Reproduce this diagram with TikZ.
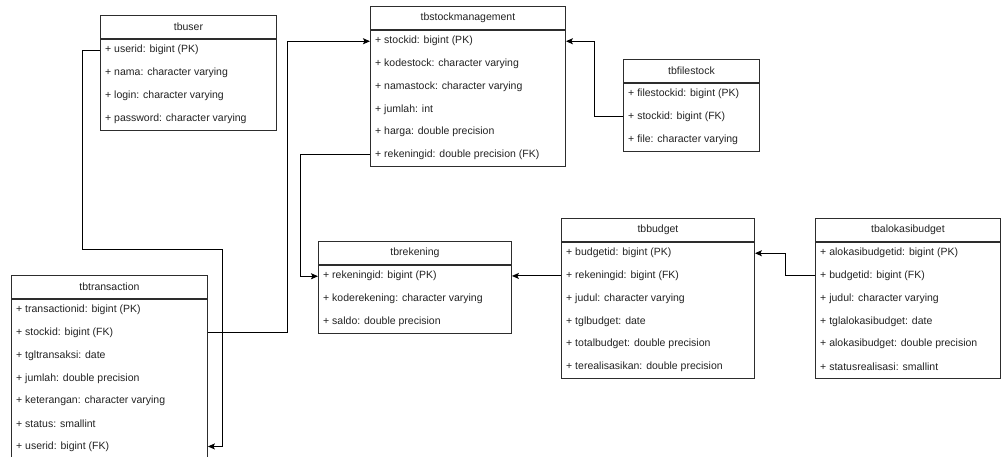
\documentclass[tikz,border=0pt]{standalone}
\usepackage{fontspec}
\setmainfont{Liberation Sans}
\usetikzlibrary{arrows.meta,positioning,calc}
\definecolor{erline}{RGB}{45,45,45}
\definecolor{ertext}{RGB}{35,35,35}

\begin{document}
\begin{tikzpicture}[x=1pt,y=-1pt,
        head/.style={draw=erline,fill=white,line width=0.9pt,anchor=north west,
                     minimum height=23pt,inner sep=0pt,
                     font=\fontsize{10.5}{12}\selectfont,text=ertext},
        body/.style={draw=erline,fill=white,line width=0.9pt,inner sep=0pt,
                     below=0pt of #1},
        field/.style={anchor=west,inner xsep=5pt,inner ysep=0pt,
                      font=\fontsize{10.5}{12}\selectfont,text=ertext},
        conn/.style={-{Stealth[length=7pt,width=6pt,inset=1.5pt]},line width=1pt,black}
    ]
        \fill[white] (0,0) rectangle (1003,457);
        \useasboundingbox (0,0) rectangle (1003,457);

        % tbuser
        \node[head,minimum width=176pt] (user) at (100,15) {tbuser};
        \node[body=user,minimum width=176pt,minimum height=4*22.7pt] (userb) {};
        \foreach \t [count=\i] in {+ userid: bigint (PK),+ nama: character varying,
            + login: character varying,+ password: character varying}
            \node[field] (user-\i) at ($(userb.north west)+(0,{(\i-0.5)*22.7})$) {\t};

        % tbstockmanagement
        \node[head,minimum width=195pt] (stock) at (370,6) {tbstockmanagement};
        \node[body=stock,minimum width=195pt,minimum height=6*22.7pt] (stockb) {};
        \foreach \t [count=\i] in {+ stockid: bigint (PK),+ kodestock: character varying,
            + namastock: character varying,+ jumlah: int,+ harga: double precision,
            + rekeningid: double precision (FK)}
            \node[field] (stock-\i) at ($(stockb.north west)+(0,{(\i-0.5)*22.7})$) {\t};

        % tbfilestock
        \node[head,minimum width=136pt] (fstock) at (623,59) {tbfilestock};
        \node[body=fstock,minimum width=136pt,minimum height=3*22.7pt] (fstockb) {};
        \foreach \t [count=\i] in {+ filestockid: bigint (PK),+ stockid: bigint (FK),
            + file: character varying}
            \node[field] (fstock-\i) at ($(fstockb.north west)+(0,{(\i-0.5)*22.7})$) {\t};

        % tbrekening
        \node[head,minimum width=193pt] (rek) at (318,241) {tbrekening};
        \node[body=rek,minimum width=193pt,minimum height=3*22.7pt] (rekb) {};
        \foreach \t [count=\i] in {+ rekeningid: bigint (PK),+ koderekening: character varying,
            + saldo: double precision}
            \node[field] (rek-\i) at ($(rekb.north west)+(0,{(\i-0.5)*22.7})$) {\t};

        % tbbudget
        \node[head,minimum width=193pt] (budget) at (561,218) {tbbudget};
        \node[body=budget,minimum width=193pt,minimum height=6*22.7pt] (budgetb) {};
        \foreach \t [count=\i] in {+ budgetid: bigint (PK),+ rekeningid: bigint (FK),
            + judul: character varying,+ tglbudget: date,+ totalbudget: double precision,
            + terealisasikan: double precision}
            \node[field] (budget-\i) at ($(budgetb.north west)+(0,{(\i-0.5)*22.7})$) {\t};

        % tbalokasibudget
        \node[head,minimum width=185pt] (alok) at (815,218) {tbalokasibudget};
        \node[body=alok,minimum width=185pt,minimum height=6*22.7pt] (alokb) {};
        \foreach \t [count=\i] in {+ alokasibudgetid: bigint (PK),+ budgetid: bigint (FK),
            + judul: character varying,+ tglalokasibudget: date,
            + alokasibudget: double precision,+ statusrealisasi: smallint}
            \node[field] (alok-\i) at ($(alokb.north west)+(0,{(\i-0.5)*22.7})$) {\t};

        % tbtransaction
        \node[head,minimum width=196pt] (trans) at (11,275) {tbtransaction};
        \node[body=trans,minimum width=196pt,minimum height=7*22.7pt] (transb) {};
        \foreach \t [count=\i] in {+ transactionid: bigint (PK),+ stockid: bigint (FK),
            + tgltransaksi: date,+ jumlah: double precision,
            + keterangan: character varying,+ status: smallint,+ userid: bigint (FK)}
            \node[field] (trans-\i) at ($(transb.north west)+(0,{(\i-0.5)*22.7})$) {\t};

        % relations
        \draw[conn] (user-1.west) -- ++(-18,0) -- ++(0,199)
            -| ([xshift=15pt]transb.east |- trans-7) -- (trans-7 -| transb.east);
        \draw[conn] (trans-2 -| transb.east) -- ++(80,0) |- (stock-1.west);
        \draw[conn] (stock-6.west) -- ++(-70,0) |- (rek-1.west);
        \draw[conn] (fstock-2.west) -- ++(-29,0) |- (stock-1 -| stockb.east);
        \draw[conn] (budget-2.west) -- (budget-2.west -| rekb.east);
        \draw[conn] (alok-2.west) -- ++(-30,0) |- (budget-1 -| budgetb.east);
    \end{tikzpicture}
\end{document}
